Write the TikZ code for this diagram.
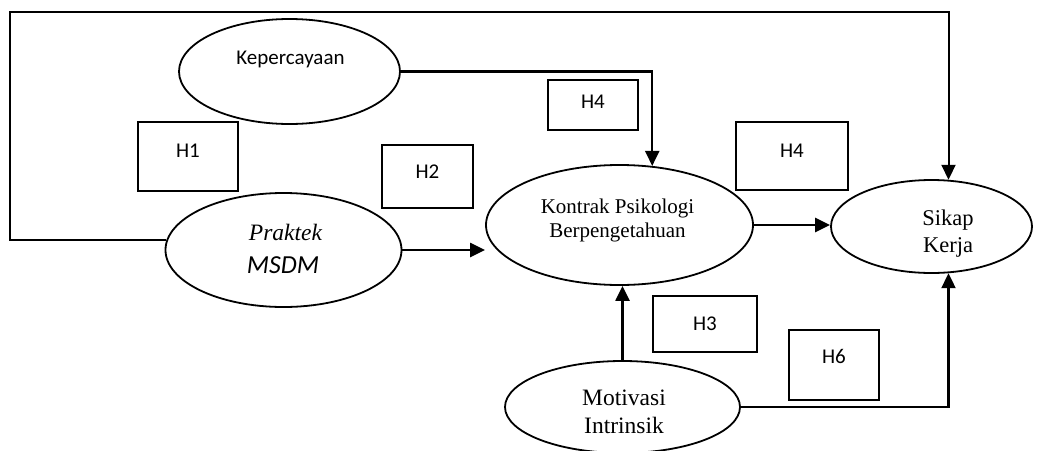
\documentclass[tikz,border=0pt]{standalone}
\usepackage{fontspec}
\setmainfont{Liberation Serif}
\newfontfamily\calfont{Carlito}
\usetikzlibrary{shapes.geometric,arrows.meta}
\begin{document}
\begin{tikzpicture}[x=1pt,y=-1pt,
 ell/.style={draw,ellipse,line width=1.8pt,inner sep=0pt},
 hbox/.style={draw,line width=1.7pt,inner sep=0pt},
 lab/.style={anchor=base,inner sep=0pt},
 hlab/.style={lab,font=\calfont\fontsize{21}{24}\selectfont},
 arr/.style={line width=2.3pt,-{Triangle[length=15pt,width=14pt]}},
]
\useasboundingbox (0,0) rectangle (1058,450);

% ellipses
\node[ell,minimum width=221pt,minimum height=105pt] (kep) at (289.5,71.5) {};
\node[ell,minimum width=236pt,minimum height=114pt] (prak) at (283.5,250) {};
\node[ell,minimum width=267pt,minimum height=120pt] (kon) at (619.5,225) {};
\node[ell,minimum width=201pt,minimum height=93pt] (sik) at (931.5,226.5) {};
\node[ell,minimum width=235pt,minimum height=92pt] (mot) at (622.5,407) {};

% ellipse texts
\node[lab,font=\calfont\fontsize{21}{24}\selectfont] (tkep) at (290.5,64) {Kepercayaan};
\node[lab,font=\itshape\fontsize{23.5}{28}\selectfont] (tprak1) at (285.5,240) {Praktek};
\node[lab,font=\calfont\itshape\fontsize{26}{30}\selectfont] (tprak2) at (283,273) {MSDM};
\node[lab,font=\fontsize{21}{24}\selectfont] (tkon1) at (617.5,213) {Kontrak Psikologi};
\node[lab,font=\fontsize{21}{24}\selectfont] (tkon2) at (617.5,237) {Berpengetahuan};
\node[lab,font=\fontsize{22.5}{27}\selectfont] (tsik1) at (948,225) {Sikap};
\node[lab,font=\fontsize{22.5}{27}\selectfont] (tsik2) at (948,252) {Kerja};
\node[lab,font=\fontsize{23.5}{28}\selectfont] (tmot1) at (624,405) {Motivasi};
\node[lab,font=\fontsize{23.5}{28}\selectfont] (tmot2) at (624,433) {Intrinsik};

% hypothesis boxes
\node[hbox,minimum width=100pt,minimum height=69pt] (h1) at (188,156.5) {};
\node[hbox,minimum width=91pt,minimum height=63pt] (h2) at (427.5,176.5) {};
\node[hbox,minimum width=90pt,minimum height=50pt] (h4a) at (593,105) {};
\node[hbox,minimum width=112pt,minimum height=68pt] (h4b) at (792,156) {};
\node[hbox,minimum width=104pt,minimum height=56pt] (h3) at (705,324) {};
\node[hbox,minimum width=90pt,minimum height=70pt] (h6) at (834,365) {};
\node[hlab] (th1) at (188,157) {H1};
\node[hlab] (th2) at (427.5,178) {H2};
\node[hlab] (th4a) at (593,108) {H4};
\node[hlab] (th4b) at (792,157) {H4};
\node[hlab] (th3) at (705,330) {H3};
\node[hlab] (th6) at (834,363) {H6};

% connectors
\coordinate (tl) at (10,12);
\draw[arr,line width=2pt] (prak.175) -- (prak.175 -| tl) -- (tl) -| (sik.70);
\draw[arr] (kep.east) -| (kon.61);
\draw[arr] (prak.east) -- (prak.east -| kon.west);
\draw[arr] (kon.east) -- (kon.east -| sik.west);
\draw[arr] (mot.north) -- (mot.north |- kon.south);
\draw[arr] (mot.east) -| (sik.290);
\end{tikzpicture}
\end{document}
